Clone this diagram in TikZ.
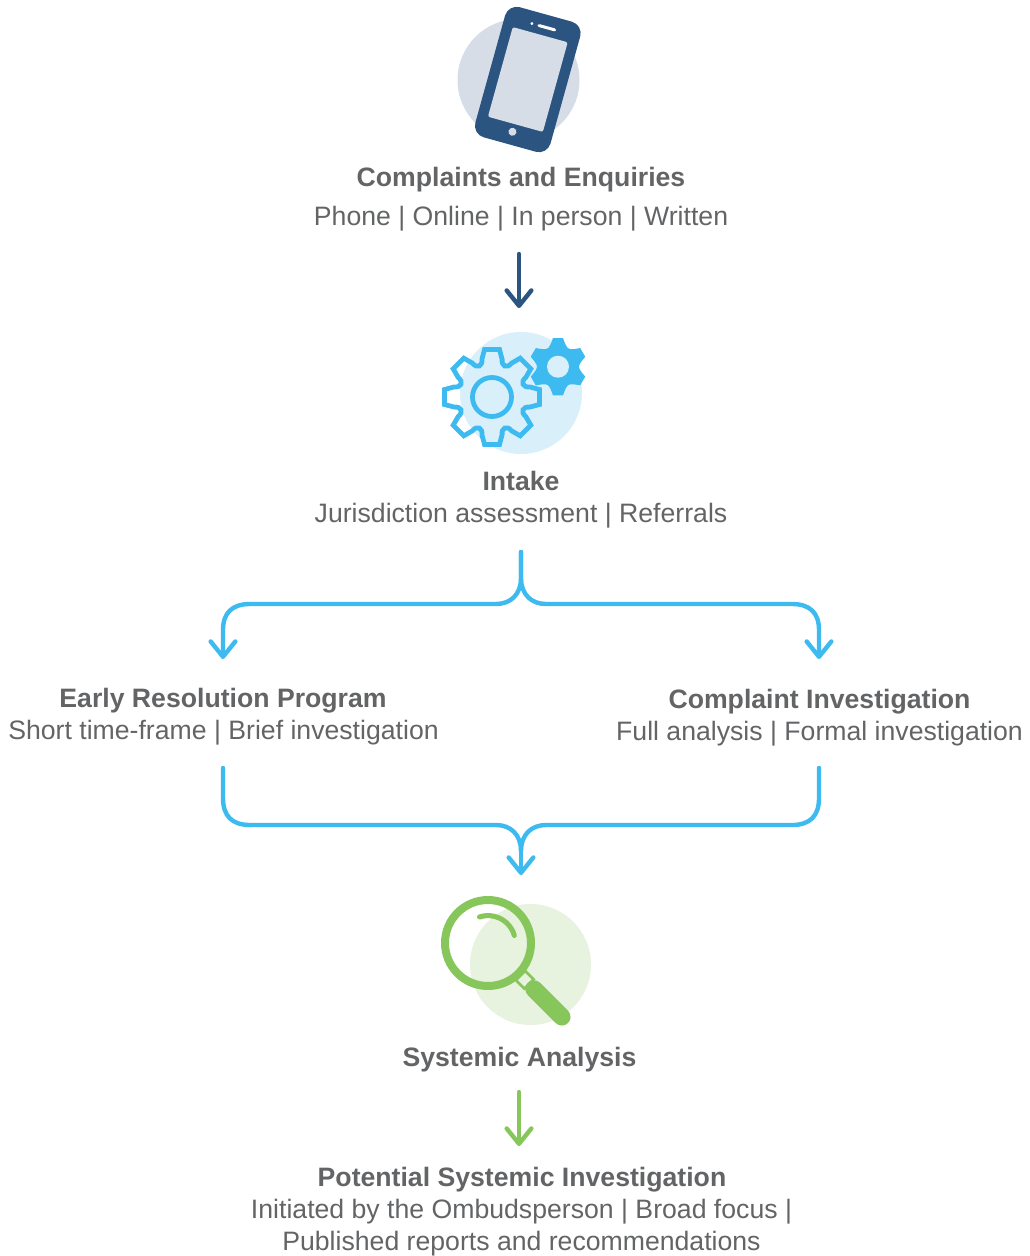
\documentclass[tikz,border=0pt]{standalone}
\usepackage{fontspec}
\setmainfont{Liberation Sans}
\usetikzlibrary{arrows.meta}
\definecolor{navy}{HTML}{2B5480}
\definecolor{sky}{HTML}{3DBBF0}
\definecolor{leaf}{HTML}{86C65A}
\definecolor{navybg}{HTML}{D6DDE7}
\definecolor{skybg}{HTML}{D9F0FB}
\definecolor{leafbg}{HTML}{E7F2DF}
\definecolor{txt}{HTML}{636466}
\tikzset{
  x=0.75pt,y=-0.75pt,
  head/.style={text=txt,anchor=base,inner sep=0pt,font=\fontsize{19.98}{24}\selectfont\bfseries},
  body/.style={text=txt,anchor=base,inner sep=0pt,font=\fontsize{19.98}{24}\selectfont},
  flow/.style={line width=3.3pt,line cap=round,line join=round,-{Straight Barb[length=11.5pt,width=18.5pt,round]}},
  merge/.style={line width=3.3pt,line cap=round,line join=round},
}
\begin{document}
\begin{tikzpicture}
\useasboundingbox (0,0) rectangle (1029,1256);
% phone icon
\fill[navybg] (518.5,80) circle[radius=61];
\begin{scope}[shift={(527.8,79.5)},rotate=-15.5]
  \fill[navy,rounded corners=9pt] (-39,-67.5) rectangle (39,67.5);
  \fill[navybg,rounded corners=1.5pt] (-28.5,-46.5) rectangle (28.5,46.5);
  \fill[white,rounded corners=1.5pt] (-5,-56.5) rectangle (14,-53.5);
  \fill[white] (-11,-55) circle[radius=1.6];
  \fill[navybg] (-0.8,54.5) circle[radius=4];
\end{scope}
% gears icon
\fill[skybg] (521,393) circle[radius=61];
\begin{scope}[shift={(492,397)}]
  \draw[sky,line width=3.6pt,line join=miter]
    (99:48)
    \foreach \a in {90,45,0,-45,-90,-135,-180,-225}{
      -- (\a+9:48) -- (\a-9:48) -- (\a-15:39) .. controls (\a-17:32) and (\a-28:32) .. (\a-30:39) -- (\a-36:48)
    } -- cycle;
  \draw[sky,line width=3.6pt] (0,0) circle[radius=19.5];
\end{scope}
\begin{scope}[shift={(558,366.7)}]
  \fill[sky]
    (100:29)
    \foreach \a in {90,30,-30,-90,-150,-210}{
      -- (\a+10:29) -- (\a-10:29) .. controls (\a-30:19) .. (\a-50:29)
    } -- cycle;
  \fill[skybg] (0,0) circle[radius=11];
\end{scope}
% magnifier icon
\fill[leafbg] (530.5,964.5) circle[radius=60.5];
\begin{scope}[shift={(488,943)},rotate=-45]
  \draw[leaf,line width=2pt] (46,-6.5) rectangle (58,6.5);
  \draw[leaf,line width=13pt,line cap=round] (65,0) -- (104.5,0);
\end{scope}
\begin{scope}[shift={(488,943)}]
  \draw[leaf,line width=6pt] (0,0) circle[radius=43];
  \draw[leaf,line width=3.8pt,line cap=round] (-108:27.4) arc[start angle=-108,end angle=-16,radius=27.4];
\end{scope}
% texts
\node[head] (complaints) at (521,186) {Complaints and Enquiries};
\node[body] (channels) at (521,225) {Phone | Online | In person | Written};
\node[head] (intake) at (521,490) {Intake};
\node[body] (intakeinfo) at (521,522) {Jurisdiction assessment | Referrals};
\node[head] (early) at (223,707) {Early Resolution Program};
\node[body] (earlyinfo) at (223.5,739) {Short time-frame | Brief investigation};
\node[head] (investigation) at (819.5,708) {Complaint Investigation};
\node[body] (investigationinfo) at (819.5,740) {Full analysis | Formal investigation};
\node[head] (systemic) at (519.5,1066) {Systemic Analysis};
\node[head] (potential) at (522,1186) {Potential Systemic Investigation};
\node[body] (potentialinfoa) at (521.5,1218) {Initiated by the Ombudsperson | Broad focus |};
\node[body] (potentialinfob) at (521.5,1250) {Published reports and recommendations};
% connector ends
\coordinate (a1s) at (519,254);
\coordinate (a1e) at (519,308);
\coordinate (bs) at (521,552);
\coordinate (bl) at (223,659);
\coordinate (br) at (819,659);
\coordinate (ml) at (223,768);
\coordinate (mr) at (819,768);
\coordinate (me) at (521,875);
\coordinate (a2s) at (519,1092);
\coordinate (a2e) at (519,1146);
% connectors
\draw[flow,navy] (a1s) -- (a1e);
\draw[flow,sky] (bs) -- (521,578) .. controls (521,594) and (511,604) .. (496,604) -- (250,604) .. controls (232,604) and (223,613) .. (223,630) -- (bl);
\draw[flow,sky] (bs) -- (521,578) .. controls (521,594) and (531,604) .. (546,604) -- (792,604) .. controls (810,604) and (819,613) .. (819,630) -- (br);
\draw[merge,sky] (ml) -- (223,798) .. controls (223,816) and (232,825) .. (250,825) -- (496,825) .. controls (511,825) and (521,835) .. (521,851);
\draw[merge,sky] (mr) -- (819,798) .. controls (819,816) and (810,825) .. (792,825) -- (546,825) .. controls (531,825) and (521,835) .. (521,851);
\draw[flow,sky] (521,845) -- (me);
\draw[flow,leaf] (a2s) -- (a2e);
\end{tikzpicture}
\end{document}
